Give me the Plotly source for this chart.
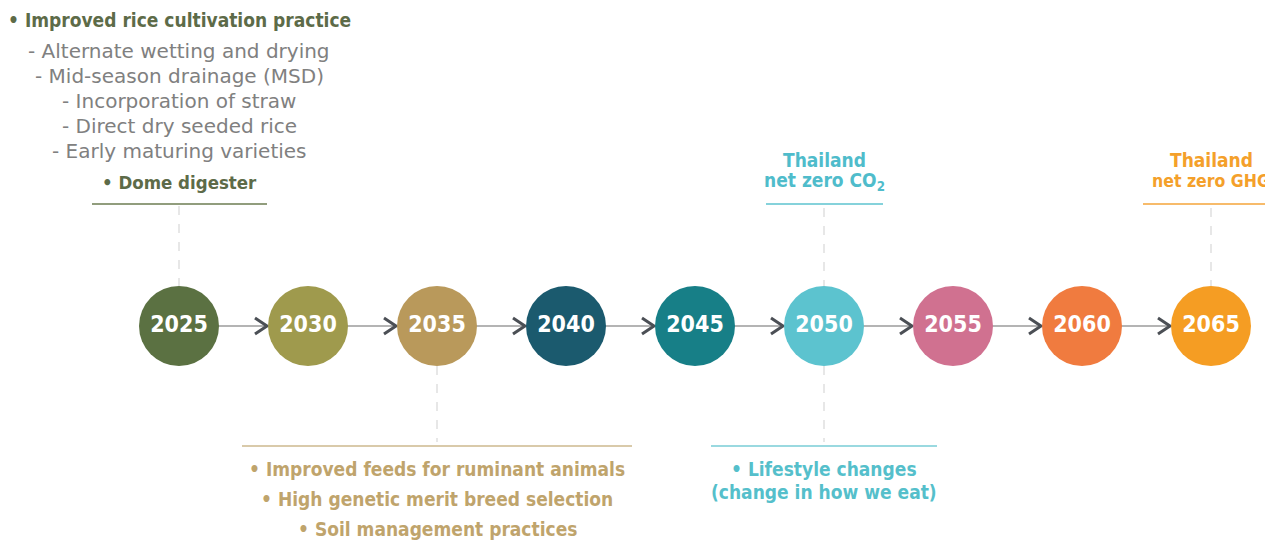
import plotly.graph_objects as go

# ---------------- data ----------------
years = [2025, 2030, 2035, 2040, 2045, 2050, 2055, 2060, 2065]
circle_colors = ["#5b7142", "#9f9a4d", "#b9995b", "#1b5a6e", "#177f87",
                 "#5cc3cf", "#d07190", "#f07b3f", "#f59d23"]

rice_title = "• Improved rice cultivation practice"
rice_items = ["- Alternate wetting and drying",
              "- Mid-season drainage (MSD)",
              "- Incorporation of straw",
              "- Direct dry seeded rice",
              "- Early maturing varieties"]
rice_last = "• Dome digester"

livestock_items = ["• Improved feeds for ruminant animals",
                   "• High genetic merit breed selection",
                   "• Soil management practices"]

co2_lines = ["Thailand", "net zero CO<sub>2</sub>"]
ghg_lines = ["Thailand", "net zero GHG"]
lifestyle_lines = ["• Lifestyle changes", "(change in how we eat)"]

# ---------------- geometry helpers ----------------
W, H = 1273, 542
OFF = 8             # page body margin
STEP = 129.0        # px between circles
X0 = 179.0          # px of first circle centre
YC = 326            # centreline

def ux(px):
    return px / STEP

xi = list(range(len(years)))

COND = "DejaVu Sans Condensed, sans-serif"
BODY = "DejaVu Sans, sans-serif"

fig = go.Figure()

# connector line
fig.add_trace(go.Scatter(x=[xi[0], xi[-1]], y=[YC, YC], mode="lines",
                         line=dict(color="#b4b4b4", width=2),
                         hoverinfo="skip", showlegend=False))

# chevrons
cx, cy = [], []
for i in xi[1:]:
    tip = i - ux(41)
    cx += [tip - ux(12), tip, tip - ux(12), None]
    cy += [YC - 8, YC, YC + 8, None]
fig.add_trace(go.Scatter(x=cx, y=cy, mode="lines",
                         line=dict(color="#4b4f55", width=3),
                         hoverinfo="skip", showlegend=False))

# circles
fig.add_trace(go.Scatter(x=xi, y=[YC] * len(xi), mode="markers+text",
                         marker=dict(size=80, color=circle_colors, line=dict(width=0)),
                         text=[str(y) for y in years], textposition="middle center",
                         textfont=dict(family=COND, size=23, color="white", weight="bold"),
                         hoverinfo="skip", showlegend=False))

shapes = []
def dashed(i, y0, y1):
    shapes.append(dict(type="line", xref="x", yref="y", x0=i, x1=i, y0=y0, y1=y1,
                       line=dict(color="#cfcfcf", width=1, dash="dash"), layer="below"))
def hline(i, left, right, y, color):
    shapes.append(dict(type="line", xref="x", yref="y", x0=i - ux(left), x1=i + ux(right),
                       y0=y, y1=y, line=dict(color=color, width=1.5), layer="below"))

dashed(0, 206, 286); hline(0, 87, 88, 204, "#6d7c52")
dashed(2, 366, 442); hline(2, 195, 195, 446, "#cdb88e")
dashed(5, 208, 286); hline(5, 58, 59, 204, "#5cc3cf")
dashed(5, 366, 442); hline(5, 113, 113, 446, "#79cdd6")
dashed(8, 208, 286); hline(8, 68, 80, 204, "#f5a43a")

ann = []
def txt(i, y, s, color, size, bold=False, fam=COND):
    ann.append(dict(x=i, y=y, xref="x", yref="y", text=s, showarrow=False,
                    xanchor="center", yanchor="middle",
                    font=dict(family=fam, size=size, color=color,
                              weight="bold" if bold else "normal")))

# rice block
txt(0, 20, rice_title, "#5d6b48", 19, True)
for k, s in enumerate(rice_items):
    txt(0, 51 + 25 * k, s, "#808080", 20, False, BODY)
txt(0, 182, rice_last, "#5d6b48", 18.5, True)

# livestock block
for k, s in enumerate(livestock_items):
    txt(2, 469 + 30 * k, s, "#bfa46c", 19, True)

# net zero CO2
for k, s in enumerate(co2_lines):
    txt(5, 160 + 21 * k, s, "#4fbccb", 19, True)
# lifestyle
for k, s in enumerate(lifestyle_lines):
    txt(5, 469 + 23 * k, s, "#55bfcb", 19, True)
# net zero GHG
txt(8, 160, ghg_lines[0], "#f4a02a", 19, True)
txt(8, 181, ghg_lines[1], "#f4a02a", 17.5, True)

fig.update_layout(width=W - OFF, height=H - OFF, margin=dict(l=0, r=0, t=0, b=0),
                  paper_bgcolor="white", plot_bgcolor="white",
                  shapes=shapes, annotations=ann, showlegend=False)
fig.update_xaxes(range=[ux(OFF - X0), ux(W - X0)], visible=False, fixedrange=True)
fig.update_yaxes(range=[H, OFF], visible=False, fixedrange=True)

fig.write_html("out.html")
